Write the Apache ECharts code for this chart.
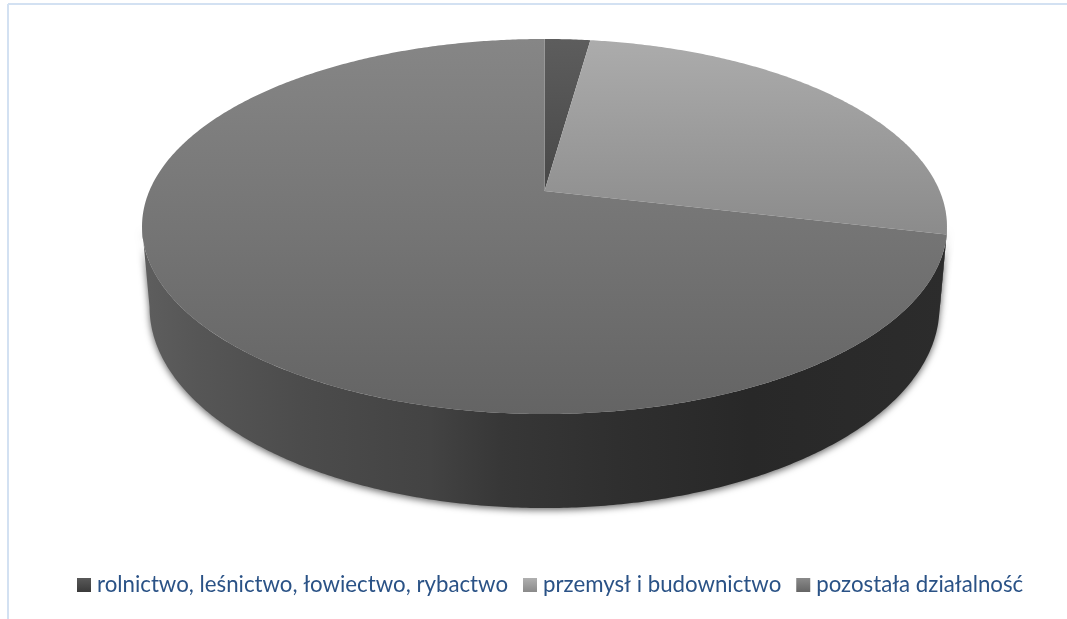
<!DOCTYPE html>
<html><head><meta charset="utf-8">
<style>html,body{margin:0;padding:0;background:#fff}#c{width:1067px;height:619px}</style>
<script src="https://cdn.jsdelivr.net/npm/echarts@6/dist/echarts.min.js"></script>
</head><body><div id="c"></div>
<script>
const categories = ['rolnictwo, leśnictwo, łowiectwo, rybactwo', 'przemysł i budownictwo', 'pozostała działalność'];
const shares = [2.2, 26.5, 71.3];
const topColors = [['#5d5d5d', '#484848'], ['#acacac', '#8b8b8b'], ['#868686', '#646464']];
const legendColors = [['#595959', '#3a3a3a'], ['#b0b0b0', '#8a8a8a'], ['#8a8a8a', '#656565']];
const sideStops = [[0, '#5e5e5e'], [0.07, '#565656'], [0.196, '#4c4c4c'], [0.358, '#434343'], [0.445, '#373737'], [0.59, '#2f2f2f'], [0.755, '#282828'], [1, '#2c2c2c']];

const centerX = 544.5, persp = 0.1893;
const upperRim = { apexY: 191, depth: 180.8, radius: 395.2 };
const lowerRim = { apexY: 269, depth: 193.8, radius: 387.8 };
const total = shares.reduce((a, b) => a + b, 0);

function project(deg, rim) {
  const t = deg * Math.PI / 180, u = Math.sin(t), v = -Math.cos(t), w = 1 - persp * v;
  return [centerX + rim.radius * u / w, rim.apexY + rim.depth * v / w];
}
function arc(a, b, rim) {
  const n = Math.max(2, Math.ceil(Math.abs(b - a) * 2)), pts = [];
  for (let i = 0; i <= n; i++) pts.push(project(a + (b - a) * i / n, rim));
  return pts;
}
function grad(x, y, x2, y2, stops) {
  return { type: 'linear', x, y, x2, y2, global: true, colorStops: stops.map(s => ({ offset: s[0], color: s[1] })) };
}
const sideA = 90 + Math.asin(persp) * 180 / Math.PI, sideB = 360 - sideA;

function makeSeries(idx) {
  return {
    type: 'custom', name: categories[idx], coordinateSystem: 'none',
    data: [[shares[idx]]], silent: true, animation: false,
    itemStyle: { color: legendColors[idx][1] },
    renderItem: function (params, api) {
      const before = shares.slice(0, idx).reduce((a, b) => a + b, 0);
      const a = before / total * 360, b = (before + api.value(0)) / total * 360;
      const children = [];
      const sa = Math.max(a, sideA), sb = Math.min(b, sideB);
      if (sb > sa) {
        children.push({
          type: 'polygon', z2: 1,
          shape: { points: arc(sa, sb, upperRim).concat(arc(sb, sa, lowerRim)) },
          style: { fill: grad(142, 0, 947, 0, sideStops), shadowBlur: 7, shadowColor: 'rgba(0,0,0,0.6)', shadowOffsetY: 2, shadowOffsetX: 0 }
        });
      }
      children.push({
        type: 'polygon', z2: 10,
        shape: { points: [[centerX, upperRim.apexY]].concat(arc(a, b, upperRim)) },
        style: { fill: grad(0, 39, 0, idx === 2 ? 414 : (idx === 1 ? 234 : 191), [[0, topColors[idx][0]], [1, topColors[idx][1]]]) }
      });
      return { type: 'group', children };
    }
  };
}

const chart = echarts.init(document.getElementById('c'), null, { renderer: 'canvas' });
chart.setOption({
  backgroundColor: '#fff',
  animation: false,
  graphic: [
    { type: 'line', shape: { x1: 8, y1: 4, x2: 1067, y2: 4 }, style: { stroke: '#d3e1f2', lineWidth: 2 } },
    { type: 'line', shape: { x1: 8, y1: 4, x2: 8, y2: 619 }, style: { stroke: '#d3e1f2', lineWidth: 2 } }
  ],
  legend: {
    left: 77, top: 574, orient: 'horizontal', icon: 'rect',
    itemWidth: 14, itemHeight: 14, itemGap: 15, padding: 0,
    data: categories.map((n, i) => ({
      name: n,
      itemStyle: { color: { type: 'linear', x: 0, y: 0, x2: 0, y2: 1, colorStops: [{ offset: 0, color: legendColors[i][0] }, { offset: 1, color: legendColors[i][1] }] } }
    })),
    textStyle: { fontFamily: 'Lato', fontSize: 22.25, color: '#2a5286', padding: [0, 0, 0, 1] },
    selectedMode: false
  },
  series: [makeSeries(0), makeSeries(1), makeSeries(2)]
});
</script></body></html>
